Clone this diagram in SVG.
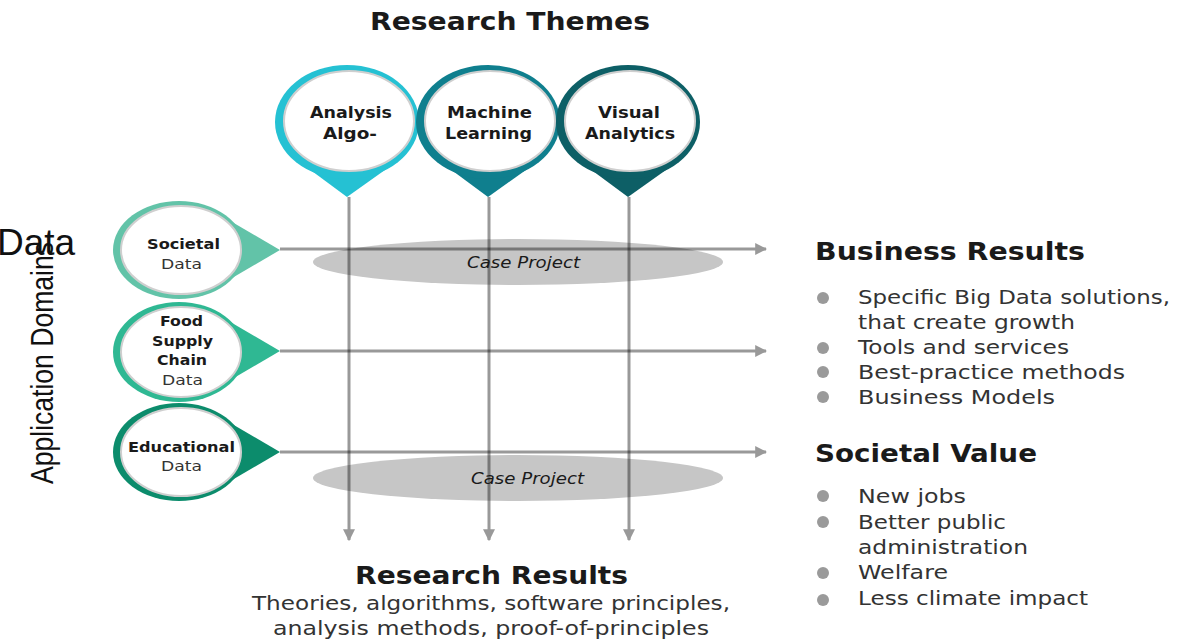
<svg xmlns="http://www.w3.org/2000/svg" width="1192" height="642" viewBox="0 0 1192 642">
<defs>
<style>
.t{font-family:"DejaVu Sans","Noto Sans",sans-serif;fill:#1a1a1a}
.b{font-weight:bold}
.r{fill:#333}
.ln{stroke:#000;stroke-opacity:0.4;stroke-width:3;fill:none}
.inner{fill:#fff;stroke:#cfcfcf;stroke-width:2}
.case{fill:#c6c6c6}
.dot{fill:#9a9a9a}
</style>
<marker id="ah" viewBox="0 0 10 10" refX="9" refY="5" markerWidth="4" markerHeight="4" orient="auto" markerUnits="strokeWidth">
<path d="M0,0 L10,5 L0,10 z" fill="#999"/>
</marker>
</defs>
<rect width="1192" height="642" fill="#fff"/>

<text class="t b" x="370" y="30" font-size="24" textLength="280" lengthAdjust="spacingAndGlyphs">Research Themes</text>

<text x="-3" y="255" font-family="Liberation Sans, Arial, sans-serif" font-size="37" fill="#111">Data</text>
<text transform="translate(53,484) rotate(-90)" font-family="Liberation Sans, Arial, sans-serif" font-size="32" fill="#111" textLength="242" lengthAdjust="spacingAndGlyphs">Application Domains</text>

<g id="case-projects">
<ellipse class="case" cx="518" cy="262" rx="205" ry="23"/>
<ellipse class="case" cx="518" cy="478" rx="205" ry="23"/>
</g>

<g id="theme-analysis">
<path d="M297,160 L399,160 L347,197 Z" fill="#25c1d3"/>
<ellipse cx="347" cy="122" rx="72" ry="57" fill="#25c1d3"/>
<ellipse class="inner" cx="349" cy="121" rx="65" ry="50"/>
<text class="t b" x="310" y="118" font-size="16" textLength="82" lengthAdjust="spacingAndGlyphs">Analysis</text>
<text class="t b" x="323" y="139" font-size="16" textLength="54" lengthAdjust="spacingAndGlyphs">Algo-</text>
</g>
<g id="theme-ml">
<path d="M438,160 L540,160 L488,197 Z" fill="#0f7f8e"/>
<ellipse cx="488" cy="122" rx="72" ry="57" fill="#0f7f8e"/>
<ellipse class="inner" cx="490" cy="121" rx="65" ry="50"/>
<text class="t b" x="447" y="118" font-size="16" textLength="85" lengthAdjust="spacingAndGlyphs">Machine</text>
<text class="t b" x="445" y="139" font-size="16" textLength="87" lengthAdjust="spacingAndGlyphs">Learning</text>
</g>
<g id="theme-va">
<path d="M578,160 L680,160 L628,197 Z" fill="#0d5f66"/>
<ellipse cx="628" cy="122" rx="72" ry="57" fill="#0d5f66"/>
<ellipse class="inner" cx="630" cy="121" rx="65" ry="50"/>
<text class="t b" x="598" y="118" font-size="16" textLength="62" lengthAdjust="spacingAndGlyphs">Visual</text>
<text class="t b" x="585" y="139" font-size="16" textLength="90" lengthAdjust="spacingAndGlyphs">Analytics</text>
</g>

<g id="domain-societal">
<path d="M215,212 L280,250 L215,288 Z" fill="#62c3a8"/>
<ellipse cx="179" cy="250" rx="66" ry="49" fill="#62c3a8"/>
<ellipse class="inner" cx="181" cy="250" rx="60" ry="44"/>
<text class="t b" x="147" y="249" font-size="14.5" textLength="73" lengthAdjust="spacingAndGlyphs">Societal</text>
<text class="t r" x="161" y="269" font-size="14.5" textLength="41" lengthAdjust="spacingAndGlyphs">Data</text>
</g>
<g id="domain-food">
<path d="M215,313 L280,351 L215,389 Z" fill="#2fb893"/>
<ellipse cx="179" cy="352" rx="66" ry="50" fill="#2fb893"/>
<ellipse class="inner" cx="181" cy="352" rx="60" ry="45"/>
<text class="t b" x="160" y="326" font-size="14.5" textLength="43" lengthAdjust="spacingAndGlyphs">Food</text>
<text class="t b" x="152" y="346" font-size="14.5" textLength="61" lengthAdjust="spacingAndGlyphs">Supply</text>
<text class="t b" x="157" y="365" font-size="14.5" textLength="50" lengthAdjust="spacingAndGlyphs">Chain</text>
<text class="t r" x="162" y="385" font-size="14.5" textLength="41" lengthAdjust="spacingAndGlyphs">Data</text>
</g>
<g id="domain-edu">
<path d="M215,414 L280,452 L215,490 Z" fill="#0c8c6c"/>
<ellipse cx="179" cy="452" rx="66" ry="49" fill="#0c8c6c"/>
<ellipse class="inner" cx="181" cy="452" rx="60" ry="44"/>
<text class="t b" x="128" y="452" font-size="14.5" textLength="107" lengthAdjust="spacingAndGlyphs">Educational</text>
<text class="t r" x="161" y="471" font-size="14.5" textLength="41" lengthAdjust="spacingAndGlyphs">Data</text>
</g>

<g id="connectors">
<line class="ln" x1="349" y1="197" x2="349" y2="540" marker-end="url(#ah)"/>
<line class="ln" x1="489" y1="197" x2="489" y2="540" marker-end="url(#ah)"/>
<line class="ln" x1="629" y1="197" x2="629" y2="540" marker-end="url(#ah)"/>
<line class="ln" x1="280" y1="249" x2="766" y2="249" marker-end="url(#ah)"/>
<line class="ln" x1="280" y1="351" x2="766" y2="351" marker-end="url(#ah)"/>
<line class="ln" x1="280" y1="452" x2="766" y2="452" marker-end="url(#ah)"/>
</g>

<text class="t" x="467" y="268" font-size="16" font-style="italic" textLength="113" lengthAdjust="spacingAndGlyphs">Case Project</text>
<text class="t" x="471" y="484" font-size="16" font-style="italic" textLength="113" lengthAdjust="spacingAndGlyphs">Case Project</text>

<g id="business-results">
<text class="t b" x="815" y="260" font-size="24" textLength="270" lengthAdjust="spacingAndGlyphs">Business Results</text>
<circle class="dot" cx="823" cy="298" r="6"/>
<circle class="dot" cx="823" cy="348" r="6"/>
<circle class="dot" cx="823" cy="372" r="6"/>
<circle class="dot" cx="823" cy="397" r="6"/>
<text class="t r" x="858" y="304" font-size="19.5" textLength="312" lengthAdjust="spacingAndGlyphs">Specific Big Data solutions,</text>
<text class="t r" x="858" y="329" font-size="19.5" textLength="217" lengthAdjust="spacingAndGlyphs">that create growth</text>
<text class="t r" x="858" y="354" font-size="19.5" textLength="211" lengthAdjust="spacingAndGlyphs">Tools and services</text>
<text class="t r" x="858" y="379" font-size="19.5" textLength="267" lengthAdjust="spacingAndGlyphs">Best-practice methods</text>
<text class="t r" x="858" y="404" font-size="19.5" textLength="197" lengthAdjust="spacingAndGlyphs">Business Models</text>
</g>

<g id="societal-value">
<text class="t b" x="815" y="462" font-size="24" textLength="222" lengthAdjust="spacingAndGlyphs">Societal Value</text>
<circle class="dot" cx="823" cy="496" r="6"/>
<circle class="dot" cx="823" cy="522" r="6"/>
<circle class="dot" cx="823" cy="573" r="6"/>
<circle class="dot" cx="823" cy="600" r="6"/>
<text class="t r" x="858" y="503" font-size="19.5" textLength="108" lengthAdjust="spacingAndGlyphs">New jobs</text>
<text class="t r" x="858" y="529" font-size="19.5" textLength="148" lengthAdjust="spacingAndGlyphs">Better public</text>
<text class="t r" x="858" y="554" font-size="19.5" textLength="170" lengthAdjust="spacingAndGlyphs">administration</text>
<text class="t r" x="858" y="579" font-size="19.5" textLength="90" lengthAdjust="spacingAndGlyphs">Welfare</text>
<text class="t r" x="858" y="605" font-size="19.5" textLength="230" lengthAdjust="spacingAndGlyphs">Less climate impact</text>
</g>

<g id="research-results">
<text class="t b" x="355" y="584" font-size="24" textLength="273" lengthAdjust="spacingAndGlyphs">Research Results</text>
<text class="t r" x="252" y="610" font-size="19.5" textLength="478" lengthAdjust="spacingAndGlyphs">Theories, algorithms, software principles,</text>
<text class="t r" x="273" y="635" font-size="19.5" textLength="436" lengthAdjust="spacingAndGlyphs">analysis methods, proof-of-principles</text>
</g>
</svg>
